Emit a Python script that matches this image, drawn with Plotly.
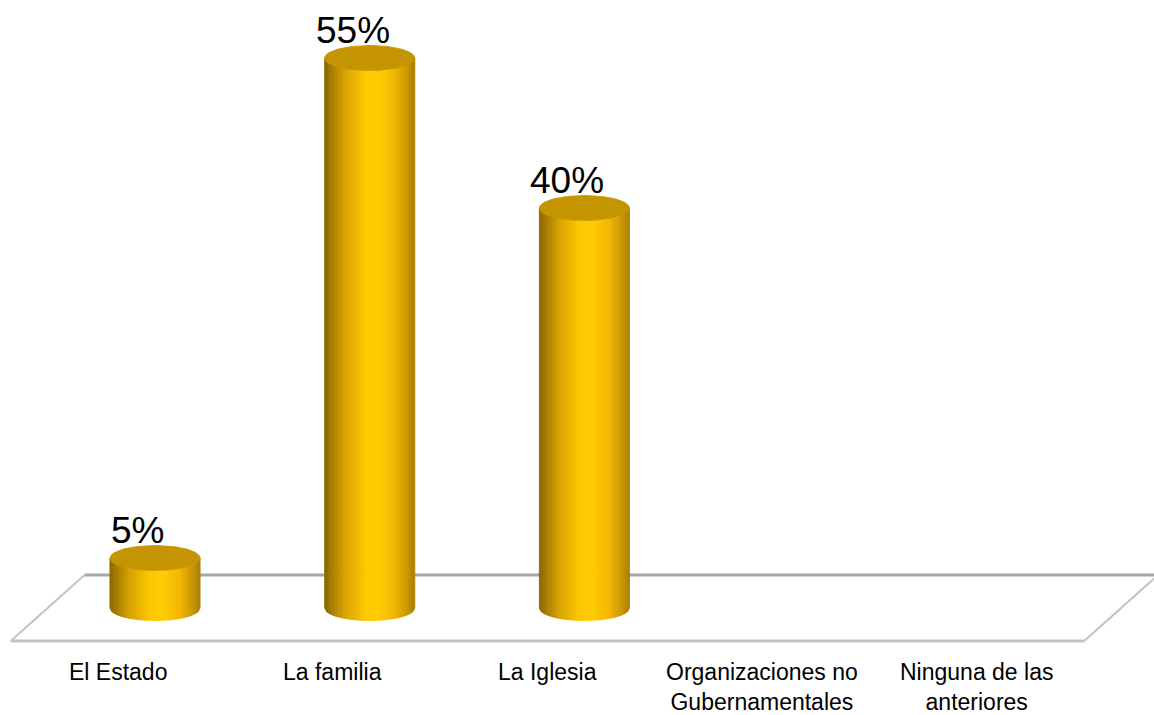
import numpy as np
import plotly.graph_objects as go

# ---------------- data ----------------
categories = [
    "El Estado",
    "La familia",
    "La Iglesia",
    "Organizaciones no<br>Gubernamentales",
    "Ninguna de las<br>anteriores",
]
values = [5, 55, 40, 0, 0]
value_labels = ["5%", "55%", "40%", "", ""]

# ---------------- style / geometry ----------------
CYL_HALF_W = 0.21      # half width of a cylinder, in category units
ELL_RY = 1.25          # vertical radius of the ellipses, in % units
DEPTH_DX = 0.172       # 3D floor depth offset (category units)
DEPTH_DY = 3.3         # 3D floor depth offset (% units)
N_STRIPS = 48
LABEL_FONT = "Liberation Sans, Arial, sans-serif"

grad_stops = [
    (0.00, (0x86, 0x63, 0x00)),
    (0.07, (0xa3, 0x79, 0x00)),
    (0.22, (0xd6, 0xa1, 0x00)),
    (0.45, (0xfc, 0xc8, 0x00)),
    (0.60, (0xff, 0xcc, 0x00)),
    (0.78, (0xf2, 0xb6, 0x00)),
    (0.92, (0xc9, 0x96, 0x00)),
    (1.00, (0xa8, 0x7e, 0x00)),
]
TOP_COLOR = "#c49500"


def grad_color(t):
    for (t0, c0), (t1, c1) in zip(grad_stops[:-1], grad_stops[1:]):
        if t0 <= t <= t1:
            f = (t - t0) / (t1 - t0)
            c = [round(a + (b - a) * f) for a, b in zip(c0, c1)]
            return "rgb(%d,%d,%d)" % tuple(c)
    return "rgb(%d,%d,%d)" % grad_stops[-1][1]


fig = go.Figure()

xpos = list(range(len(categories)))

# cylinder bodies: vertical strips with a horizontal gradient
for k in range(N_STRIPS):
    u0 = -1 + 2 * k / N_STRIPS
    u1 = -1 + 2 * (k + 1) / N_STRIPS
    s0 = np.sqrt(max(0.0, 1 - u0 ** 2))
    s1 = np.sqrt(max(0.0, 1 - u1 ** 2))
    xs, ys = [], []
    for i, v in zip(xpos, values):
        if v <= 0:
            continue
        xa = i + u0 * CYL_HALF_W
        xb = i + u1 * CYL_HALF_W
        xs += [xa, xb, xb, xa, xa, None]
        ys += [-ELL_RY * s0, -ELL_RY * s1, v - ELL_RY * s1, v - ELL_RY * s0, -ELL_RY * s0, None]
    col = grad_color((k + 0.5) / N_STRIPS)
    fig.add_trace(go.Scatter(
        x=xs, y=ys, mode="lines", fill="toself", fillcolor=col,
        line=dict(color=col, width=0.8), hoverinfo="skip", showlegend=False,
    ))

# cylinder tops
theta = np.linspace(0, 2 * np.pi, 120)
xs, ys = [], []
for i, v in zip(xpos, values):
    if v <= 0:
        continue
    xs += list(i + CYL_HALF_W * np.cos(theta)) + [None]
    ys += list(v + ELL_RY * np.sin(theta)) + [None]
fig.add_trace(go.Scatter(
    x=xs, y=ys, mode="lines", fill="toself", fillcolor=TOP_COLOR,
    line=dict(color=TOP_COLOR, width=0.8), hoverinfo="skip", showlegend=False,
))

# floor (3D base plane)
n = len(categories)
xl, xr = -0.5, n - 0.5
fig.add_shape(type="line", x0=xl + DEPTH_DX, y0=DEPTH_DY, x1=xr + DEPTH_DX, y1=DEPTH_DY,
              line=dict(color="#a6a6a6", width=3), layer="below")
fig.add_shape(type="line", x0=xl - DEPTH_DX, y0=-DEPTH_DY, x1=xr - DEPTH_DX, y1=-DEPTH_DY,
              line=dict(color="#c3c3c3", width=3), layer="below")
fig.add_shape(type="line", x0=xl - DEPTH_DX, y0=-DEPTH_DY, x1=xl + DEPTH_DX, y1=DEPTH_DY,
              line=dict(color="#c3c3c3", width=2), layer="below")
fig.add_shape(type="line", x0=xr - DEPTH_DX, y0=-DEPTH_DY, x1=xr + DEPTH_DX, y1=DEPTH_DY,
              line=dict(color="#c3c3c3", width=2), layer="below")

# value labels
for i, v, lab in zip(xpos, values, value_labels):
    if not lab:
        continue
    fig.add_annotation(x=i - 0.08, y=v + 2.8, text=lab, showarrow=False,
                       xanchor="center", yanchor="middle",
                       font=dict(family=LABEL_FONT, size=37, color="#000000"))

# category labels
for i, c in zip(xpos, categories):
    fig.add_annotation(x=i - DEPTH_DX, y=-4.85, text=c, showarrow=False,
                       xanchor="center", yanchor="top", align="center",
                       font=dict(family=LABEL_FONT, size=23, color="#000000"))

fig.update_layout(
    width=1154, height=715,
    margin=dict(l=0, r=0, t=0, b=0),
    paper_bgcolor="white", plot_bgcolor="white",
    xaxis=dict(range=[-0.722, 4.653], visible=False, fixedrange=True),
    yaxis=dict(range=[-10.7, 60.8], visible=False, fixedrange=True),
    showlegend=False,
)

fig.write_html(
    "out.html",
    config={"displayModeBar": False},
    post_script="document.body.style.margin='0';document.body.style.overflow='hidden';",
)
